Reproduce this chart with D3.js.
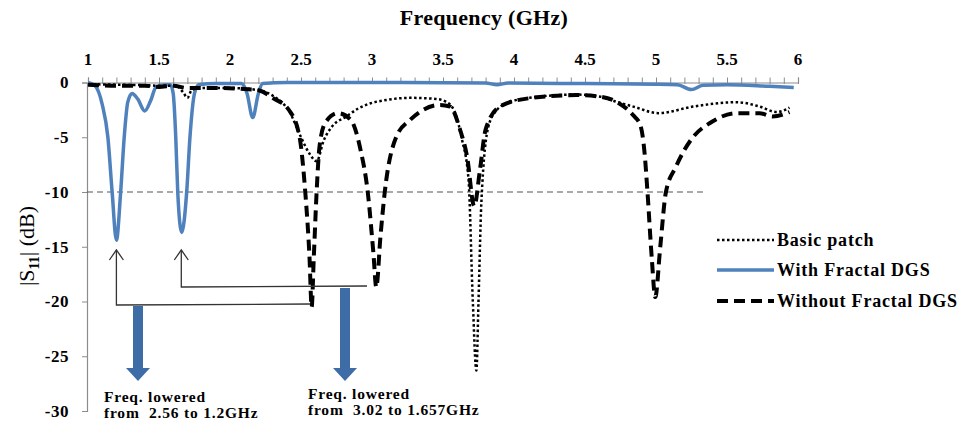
<!DOCTYPE html>
<html>
<head>
<meta charset="utf-8">
<script src="https://cdn.jsdelivr.net/npm/d3@7"></script>
<style>
  html, body { margin: 0; padding: 0; background: #fff; }
  svg { display: block; }
  text { font-family: "Liberation Serif", "Times New Roman", serif; }
</style>
</head>
<body>
<svg id="chart" width="969" height="422"></svg>
<script>
// ---------- DATA ----------
const xTickLabels = ["1", "1.5", "2", "2.5", "3", "3.5", "4", "4.5", "5", "5.5", "6"];
const yTickLabels = ["0", "-5", "-10", "-15", "-20", "-25", "-30"];
const seriesNames = ["Basic patch", "With Fractal DGS", "Without Fractal DGS"];

// Basic patch (dotted)
const basicFreq = [1.0, 1.2, 1.4, 1.5, 1.62, 1.67, 1.70, 1.73, 1.8, 2.0, 2.2, 2.3, 2.42, 2.5, 2.56, 2.61, 2.66, 2.72, 2.82, 2.9, 2.99, 3.1, 3.27, 3.45, 3.52, 3.58, 3.63, 3.68, 3.71, 3.735, 3.75, 3.77, 3.82, 3.88, 3.95, 4.11, 4.44, 4.61, 4.72, 4.84, 5.02, 5.26, 5.57, 5.73, 5.85, 5.94];
const basicS11 = [-0.15, -0.2, -0.25, -0.3, -0.3, -0.9, -1.4, -0.7, -0.5, -0.5, -0.7, -1.2, -2.7, -5.0, -6.5, -7.2, -5.3, -4.0, -3.1, -2.4, -1.9, -1.6, -1.4, -1.5, -1.75, -2.6, -5.0, -8.9, -20, -26.3, -20, -11, -4.0, -2.5, -1.9, -1.4, -1.1, -1.3, -1.75, -2.2, -2.8, -2.2, -1.8, -2.2, -2.7, -2.3];

// With Fractal DGS (solid blue)
const fractalFreq = [1.0, 1.05, 1.1, 1.14, 1.17, 1.2, 1.23, 1.255, 1.28, 1.31, 1.35, 1.4, 1.44, 1.48, 1.55, 1.58, 1.6, 1.618, 1.632, 1.66, 1.695, 1.718, 1.75, 1.78, 1.9, 2.08, 2.12, 2.16, 2.2, 2.23, 2.4, 3.0, 3.8, 3.88, 3.96, 4.5, 5.0, 5.15, 5.25, 5.33, 5.5, 5.8, 5.97];
const fractalS11 = [0, -0.3, -2.0, -5.0, -10, -14.4, -10, -5.0, -1.8, -1.0, -1.5, -2.6, -1.7, -0.4, -0.2, -0.2, -1.0, -5.0, -10, -13.7, -10, -5.0, -1.0, -0.2, -0.1, -0.1, -1.0, -3.2, -1.0, -0.1, 0, 0, -0.05, -0.2, -0.05, -0.1, -0.15, -0.2, -0.65, -0.25, -0.2, -0.35, -0.45];

// Without Fractal DGS (dashed black)
const noFractalFreq = [1.0, 1.2, 1.4, 1.5, 1.6, 1.7, 1.9, 2.1, 2.2, 2.3, 2.42, 2.49, 2.53, 2.56, 2.575, 2.59, 2.61, 2.63, 2.67, 2.76, 2.85, 2.92, 2.97, 3.01, 3.03, 3.06, 3.09, 3.17, 3.27, 3.36, 3.48, 3.55, 3.62, 3.67, 3.72, 3.76, 3.8, 3.9, 4.1, 4.44, 4.61, 4.72, 4.84, 4.89, 4.92, 4.94, 4.97, 4.995, 5.03, 5.07, 5.14, 5.26, 5.38, 5.57, 5.73, 5.82, 5.94];
const noFractalS11 = [-0.2, -0.3, -0.3, -0.4, -0.3, -0.5, -0.5, -0.6, -0.7, -1.4, -2.6, -5.0, -10, -16, -20.5, -16, -10, -5.9, -3.7, -2.8, -3.4, -6.2, -10, -15.6, -18.7, -14, -10, -5.0, -3.4, -2.5, -2.05, -2.2, -4.3, -6.8, -11.3, -8.0, -4.3, -2.2, -1.45, -1.15, -1.3, -1.75, -3.0, -3.9, -6.5, -10, -16, -19.6, -15, -10, -7.7, -5.0, -3.7, -2.8, -2.8, -3.1, -2.7];

// Annotation values
const refLevel = -10;
const shiftFrom = [2.56, 3.02];
const shiftTo = [1.2, 1.657];
const annoLine1 = ["Freq. lowered", "Freq. lowered"];
const annoLine2 = ["from  2.56 to 1.2GHz", "from  3.02 to 1.657GHz"];

// ---------- CHART ----------
const svg = d3.select("#chart");
const x = d3.scaleLinear().domain([1, 6]).range([88, 798]);
const y = d3.scaleLinear().domain([0, -30]).range([82.5, 411]);

const axisColor = "#8c8c8c";
const blue = "#4f81bd";

// Title
svg.append("text").attr("x", 484).attr("y", 25).attr("text-anchor", "middle")
  .attr("font-size", 22).attr("font-weight", "bold").attr("letter-spacing", 0.3).text("Frequency (GHz)");

// Top x axis (at 0 dB)
const xAxis = d3.axisTop(x).tickValues(d3.range(0, 51).map(i => 1 + i * 0.1))
  .tickSize(5).tickFormat("");
const gx = svg.append("g").attr("transform", `translate(0,${y(0)})`).call(xAxis);
gx.select(".domain").attr("stroke", axisColor).attr("stroke-width", 1.2);
gx.selectAll(".tick line").attr("stroke", axisColor).attr("y2", -5).attr("y1", 1.5);

xTickLabels.forEach(t => {
  svg.append("text").attr("x", x(+t)).attr("y", 65).attr("text-anchor", "middle")
    .attr("font-size", 17).attr("font-weight", "bold").text(t);
});

// Left y axis
const yAxis = d3.axisLeft(y).tickValues(yTickLabels.map(Number)).tickSize(5).tickFormat("");
const gy = svg.append("g").attr("transform", `translate(87,0)`).call(yAxis);
gy.select(".domain").attr("stroke", axisColor).attr("stroke-width", 1.2);
gy.selectAll(".tick line").attr("stroke", axisColor);
yTickLabels.forEach(t => {
  svg.append("text").attr("x", 69).attr("y", y(+t)).attr("dy", "0.35em").attr("text-anchor", "end")
    .attr("font-size", 17).attr("font-weight", "bold").attr("letter-spacing", 0.5).text(t);
});

// Y label
const yl = svg.append("text").attr("transform", "translate(34,246) rotate(-90)")
  .attr("text-anchor", "middle").attr("font-size", 22);
yl.append("tspan").text("|S");
yl.append("tspan").attr("font-size", 14).attr("font-weight", "bold").attr("dy", 5).text("11");
yl.append("tspan").attr("dy", -5).text("| (dB)");

// -10 dB reference line
svg.append("line").attr("x1", 87).attr("x2", 705).attr("y1", y(refLevel)).attr("y2", y(refLevel))
  .attr("stroke", "#555").attr("stroke-width", 1.2).attr("stroke-dasharray", "6,4");

const line = d3.line().x(d => x(d[0])).y(d => y(d[1])).curve(d3.curveMonotoneX);

// Blue line
svg.append("path").datum(fractalFreq.map((f, i) => [f, fractalS11[i]]))
  .attr("d", line).attr("fill", "none").attr("stroke", blue).attr("stroke-width", 3.5);
// Dashed
svg.append("path").datum(noFractalFreq.map((f, i) => [f, noFractalS11[i]]))
  .attr("d", line).attr("fill", "none").attr("stroke", "#000").attr("stroke-width", 4)
  .attr("stroke-dasharray", "11,6");
// Dotted
svg.append("path").datum(basicFreq.map((f, i) => [f, basicS11[i]]))
  .attr("d", line).attr("fill", "none").attr("stroke", "#000").attr("stroke-width", 2.5)
  .attr("stroke-dasharray", "2.5,2.5");

// Annotation connector lines with open arrowheads
const connY = [305, 287];
const connEnd = [310, 367];
shiftTo.forEach((f, i) => {
  const xt = x(f), tipY = 250;
  svg.append("path")
    .attr("d", `M${xt},${tipY} L${xt},${connY[i]} L${connEnd[i]},${connY[i] - 1}`)
    .attr("fill", "none").attr("stroke", "#333").attr("stroke-width", 1.3);
  svg.append("path")
    .attr("d", `M${xt - 7},${tipY + 10} L${xt},${tipY} L${xt + 7},${tipY + 10}`)
    .attr("fill", "none").attr("stroke", "#333").attr("stroke-width", 1.3);
});

// Thick blue arrows
const bigArrowX = [138, 345];
const bigArrowTop = [306, 288];
bigArrowX.forEach((bx, i) => {
  const top = bigArrowTop[i], headStart = 368, tip = 381;
  svg.append("path")
    .attr("d", `M${bx - 5},${top} L${bx + 5},${top} L${bx + 5},${headStart} L${bx + 12},${headStart} L${bx},${tip} L${bx - 12},${headStart} L${bx - 5},${headStart} Z`)
    .attr("fill", "#3d6ca6");
});

// Annotation text
const annoX = [104, 308];
const annoY = [402, 399];
annoX.forEach((ax, i) => {
  svg.append("text").attr("x", ax).attr("y", annoY[i]).attr("font-size", 15.5).attr("font-weight", "bold")
    .attr("letter-spacing", 0.8).style("white-space", "pre").text(annoLine1[i]);
  svg.append("text").attr("x", ax).attr("y", annoY[i] + 16).attr("font-size", 15.5).attr("font-weight", "bold")
    .attr("letter-spacing", 0.8).style("white-space", "pre").text(annoLine2[i]);
});

// Legend
const legY = [240, 270, 301];
const legStyles = [
  { w: 2.5, dash: "2.5,2.5", c: "#000" },
  { w: 3.5, dash: null, c: blue },
  { w: 4, dash: "11,6", c: "#000" }
];
seriesNames.forEach((n, i) => {
  const l = svg.append("line").attr("x1", 717).attr("x2", 774).attr("y1", legY[i]).attr("y2", legY[i])
    .attr("stroke", legStyles[i].c).attr("stroke-width", legStyles[i].w);
  if (legStyles[i].dash) l.attr("stroke-dasharray", legStyles[i].dash);
  svg.append("text").attr("x", 777).attr("y", legY[i]).attr("dy", "0.33em")
    .attr("font-size", 18).attr("font-weight", "bold").attr("letter-spacing", 0.8).text(n);
});
</script>
</body>
</html>
